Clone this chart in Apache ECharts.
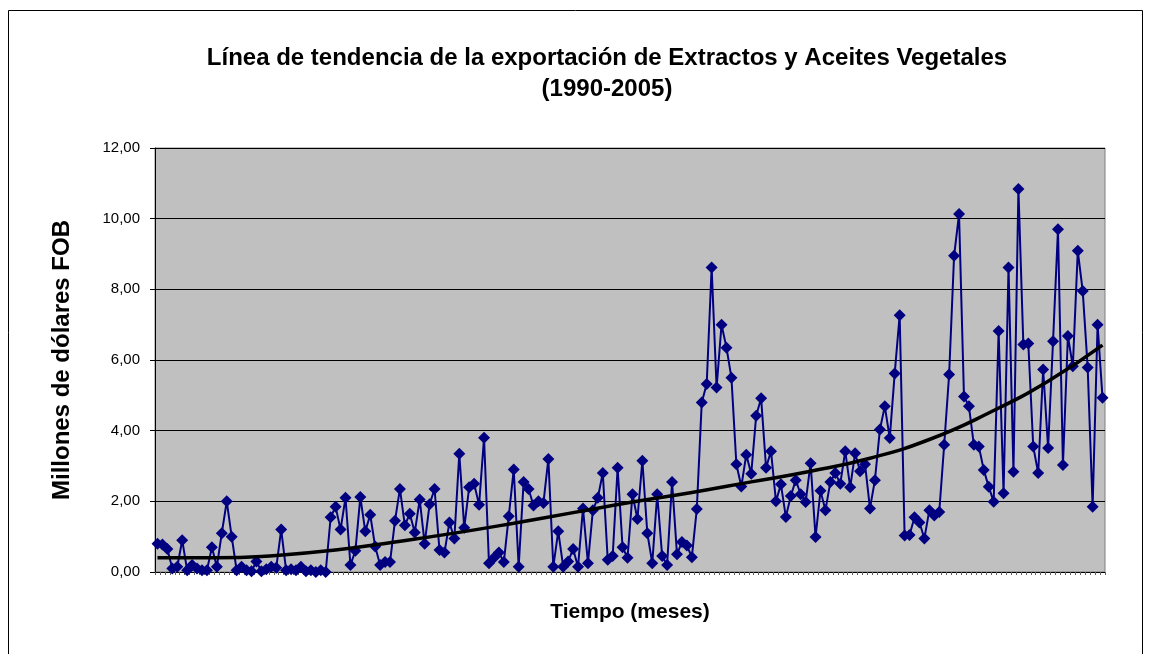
<!DOCTYPE html>
<html>
<head>
<meta charset="utf-8">
<script src="https://cdn.jsdelivr.net/npm/echarts@6/dist/echarts.min.js"></script>
<style>
  html, body { margin: 0; padding: 0; background: #ffffff; }
  #chart { width: 1150px; height: 654px; }
</style>
</head>
<body>
<div id="chart"></div>
<script>
// Monthly categories, January 1990 to December 2005
const years = [1990, 1991, 1992, 1993, 1994, 1995, 1996, 1997, 1998, 1999, 2000, 2001, 2002, 2003, 2004, 2005];
const months = ['01', '02', '03', '04', '05', '06', '07', '08', '09', '10', '11', '12'];
const categories = [];
years.forEach(y => months.forEach(m => categories.push(y + '-' + m)));

// Monthly exports, millions of US dollars FOB
const exportsFob = [
  0.80, 0.78, 0.65, 0.10, 0.15, 0.90, 0.05, 0.20, 0.10, 0.05, 0.05, 0.70,
  0.15, 1.10, 2.00, 1.00, 0.05, 0.15, 0.05, 0.02, 0.30, 0.02, 0.08, 0.15,
  0.12, 1.20, 0.05, 0.08, 0.05, 0.15, 0.02, 0.05, 0.00, 0.05, 0.00, 1.55,
  1.85, 1.20, 2.10, 0.20, 0.60, 2.12, 1.15, 1.62, 0.72, 0.20, 0.28, 0.28,
  1.45, 2.35, 1.32, 1.65, 1.12, 2.05, 0.80, 1.92, 2.35, 0.62, 0.55, 1.40,
  0.95, 3.35, 1.25, 2.40, 2.50, 1.90, 3.80, 0.25, 0.40, 0.55, 0.28, 1.58,
  2.90, 0.15, 2.55, 2.35, 1.88, 2.00, 1.95, 3.20, 0.15, 1.15, 0.15, 0.30,
  0.65, 0.15, 1.80, 0.25, 1.75, 2.10, 2.80, 0.35, 0.45, 2.95, 0.70, 0.40,
  2.20, 1.50, 3.15, 1.10, 0.25, 2.20, 0.45, 0.20, 2.55, 0.50, 0.85, 0.75,
  0.42, 1.78, 4.80, 5.32, 8.62, 5.22, 7.00, 6.35, 5.50, 3.05, 2.42, 3.32,
  2.78, 4.42, 4.92, 2.95, 3.42, 2.00, 2.48, 1.56, 2.15, 2.60, 2.20, 1.98,
  3.08, 0.99, 2.30, 1.75, 2.55, 2.80, 2.50, 3.42, 2.40, 3.36, 2.85, 3.05,
  1.80, 2.60, 4.03, 4.69, 3.79, 5.62, 7.27, 1.03, 1.05, 1.55, 1.40, 0.95,
  1.75, 1.60, 1.70, 3.60, 5.59, 8.95, 10.13, 4.97, 4.69, 3.60, 3.55, 2.89,
  2.41, 1.99, 6.82, 2.23, 8.62, 2.84, 10.84, 6.44, 6.47, 3.55, 2.80, 5.73,
  3.51, 6.53, 9.70, 3.03, 6.68, 5.82, 9.09, 7.95, 5.79, 1.85, 7.00, 4.93
];

// Trend curve, read at yearly knots (month index -> value)
const trendIndex = [0, 12, 24, 36, 48, 60, 72, 84, 96, 108, 120, 132, 144, 156, 168, 180, 191];
const trendValue = [0.40, 0.40, 0.47, 0.62, 0.85, 1.10, 1.38, 1.68, 1.98, 2.25, 2.55, 2.85, 3.22, 3.75, 4.50, 5.40, 6.42];

// Y axis ticks
const yTicks = [0, 2, 4, 6, 8, 10, 12];

const trendData = categories.map(() => null);
trendIndex.forEach((idx, k) => { trendData[idx] = trendValue[k]; });

const chart = echarts.init(document.getElementById('chart'), null, { renderer: 'canvas' });

const font = 'Liberation Sans, Arial, sans-serif';

chart.setOption({
  animation: false,
  backgroundColor: '#ffffff',
  title: {
    text: 'Línea de tendencia de la exportación de Extractos y Aceites Vegetales\n(1990-2005)',
    left: 602,
    top: 38,
    textAlign: 'center',
    textStyle: {
      fontFamily: font,
      fontSize: 24,
      fontWeight: 'bold',
      color: '#000000',
      lineHeight: 31
    }
  },
  graphic: [{
    type: 'rect',
    silent: true,
    shape: { x: 8.5, y: 10.5, width: 1134, height: 700 },
    style: { fill: null, stroke: '#000000', lineWidth: 1 }
  }],
  grid: {
    left: 155,
    right: 45,
    top: 148,
    bottom: 82,
    show: true,
    backgroundColor: '#C0C0C0',
    borderColor: '#808080',
    borderWidth: 1
  },
  xAxis: {
    type: 'category',
    data: categories,
    boundaryGap: true,
    name: 'Tiempo (meses)',
    nameLocation: 'middle',
    nameGap: 30,
    nameTextStyle: { fontFamily: font, fontSize: 21, fontWeight: 'bold', color: '#000000' },
    axisLine: { show: true, lineStyle: { color: '#000000', width: 1 } },
    axisTick: { show: true, interval: 0, length: 3, lineStyle: { color: '#606060', width: 1 } },
    axisLabel: { show: false },
    splitLine: { show: false }
  },
  yAxis: {
    type: 'value',
    min: yTicks[0],
    max: yTicks[yTicks.length - 1],
    interval: 2,
    name: 'Millones de dólares FOB',
    nameLocation: 'middle',
    nameGap: 81,
    nameRotate: 90,
    nameTextStyle: { fontFamily: font, fontSize: 24, fontWeight: 'bold', color: '#000000' },
    axisLine: { show: true, lineStyle: { color: '#000000', width: 1 } },
    axisTick: { show: true, inside: false, length: 5, lineStyle: { color: '#000000' } },
    axisLabel: {
      fontFamily: font,
      fontSize: 15,
      color: '#000000',
      margin: 15,
      formatter: v => v.toFixed(2).replace('.', ',')
    },
    splitLine: { show: true, lineStyle: { color: '#000000', width: 1 } }
  },
  series: [
    {
      name: 'Exportaciones',
      type: 'line',
      data: exportsFob,
      symbol: 'diamond',
      symbolSize: 12,
      showAllSymbol: true,
      itemStyle: { color: '#000080', borderWidth: 0 },
      lineStyle: { color: '#000080', width: 2 },
      z: 3
    },
    {
      name: 'Tendencia',
      type: 'line',
      data: trendData,
      connectNulls: true,
      smooth: 0.5,
      symbol: 'none',
      lineStyle: { color: '#000000', width: 3.5 },
      z: 4
    }
  ]
});
</script>
</body>
</html>
